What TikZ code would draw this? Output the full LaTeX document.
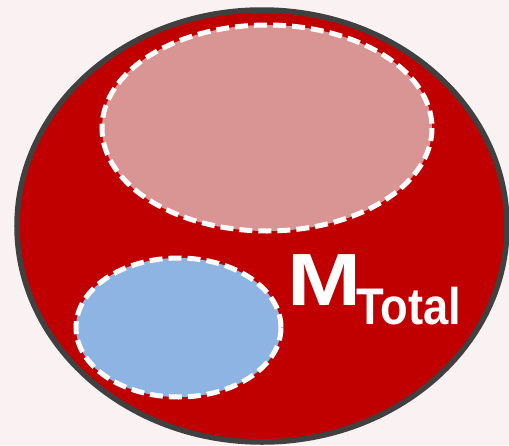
\documentclass[tikz,border=0pt]{standalone}
\usepackage{fontspec}
\setmainfont{Liberation Sans}
\usepackage{graphicx}
\definecolor{bgc}{HTML}{FAF2F2}
\definecolor{outerred}{HTML}{C00000}
\definecolor{bordergray}{HTML}{404040}
\definecolor{pinkfill}{HTML}{D99594}
\definecolor{bluefill}{HTML}{8EB4E3}
\begin{document}
\begin{tikzpicture}[x=1pt,y=-1pt,
  inner/.style={draw=white,line width=5pt,dash pattern=on 13pt off 6pt},
  lbl/.style={text=white,inner sep=0pt,anchor=base west}]
\fill[bgc] (0,0) rectangle (509,445);
\useasboundingbox (0,0) rectangle (509,445);
\path[fill=outerred,draw=bordergray,line width=5.5pt] (262,226) ellipse [x radius=245, y radius=216];
\path[fill=pinkfill,inner] (267,128) ellipse [x radius=165, y radius=103];
\path[fill=bluefill,inner] (178.5,327.5) ellipse [x radius=102.5, y radius=69.5];
\node[lbl,font=\bfseries\fontsize{74}{74}\selectfont] (m) at (287.5,305) {\scalebox{1.2}[1]{M}};
\node[lbl,font=\bfseries\fontsize{51.5}{52}\selectfont] (t) at (356,324) {\scalebox{0.88}[1]{Total}};
\end{tikzpicture}
\end{document}
